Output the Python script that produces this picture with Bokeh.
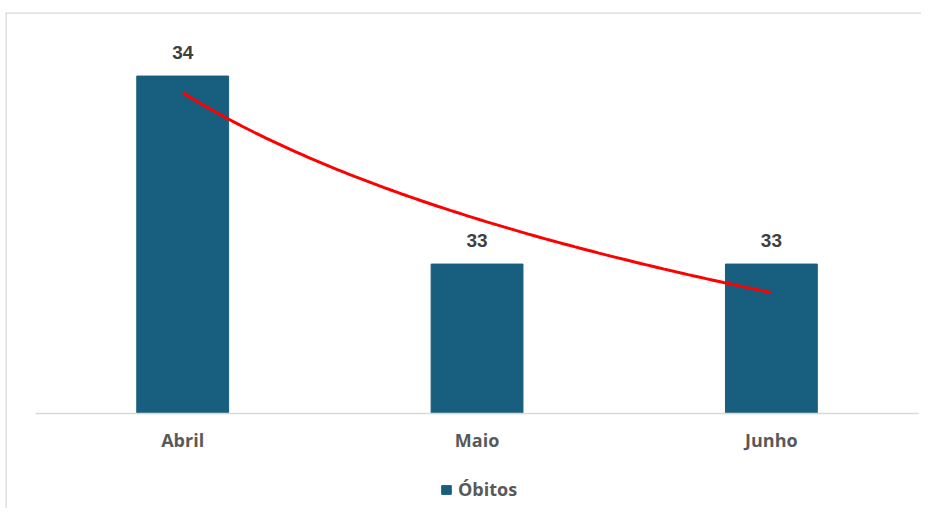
import numpy as np
from bokeh.plotting import figure
from bokeh.models import ColumnDataSource, Legend, LegendItem, FixedTicker, Range1d, Span
from bokeh.core.properties import value
from bokeh.embed import file_html
from bokeh.resources import INLINE

# ---- data ----
categories = ["Abril", "Maio", "Junho"]
obitos = [34, 33, 33]
labels = ["34", "33", "33"]
axis_min = 32.205

xpos = [i + 1 for i in range(len(categories))]

# logarithmic trend line fitted to the bar values (as a spreadsheet trendline)
b, a = np.polyfit(np.log(xpos), obitos, 1)
tx = np.linspace(xpos[0], xpos[-1], 100)
ty = a + b * np.log(tx)

BAR = "#185E7F"
BORDER = "#d9d9d9"

x_start, x_end = 0.398, 3.510
y_start, y_end = 31.70, 34.338

p = figure(frame_width=916, frame_height=496, output_backend="svg", toolbar_location=None,
           x_range=Range1d(x_start, x_end), y_range=Range1d(y_start, y_end),
           min_border_left=5, min_border_right=0, min_border_top=12,
           min_border_bottom=0)
p.outline_line_color = None
p.grid.visible = False
p.yaxis.visible = False

# chart-area border (top and left edges)
p.add_layout(Span(location=y_end, dimension="width", line_color=BORDER, line_width=2.5))
p.add_layout(Span(location=x_start, dimension="height", line_color=BORDER, line_width=2.5))

src = ColumnDataSource(dict(x=xpos, top=obitos, lab=labels))
bars = p.vbar(x="x", top="top", bottom=axis_min, width=0.312, color=BAR, source=src)

p.line(tx, ty, line_color="#FF0000", line_width=3)

p.text(x="x", y="top", text="lab", source=src, text_align="center",
       text_baseline="alphabetic", y_offset=-24,
       text_font=value("Liberation Sans"), text_font_style="bold",
       text_font_size="19px", text_color="#404040")

ax = p.xaxis[0]
ax.fixed_location = axis_min
ax.bounds = (xpos[0] - 0.5, xpos[-1] + 0.5)
ax.ticker = FixedTicker(ticks=xpos)
ax.major_label_overrides = {x: c for x, c in zip(xpos, categories)}
ax.axis_line_color = BORDER
ax.axis_line_width = 1.5
ax.major_tick_line_color = None
ax.minor_tick_line_color = None
ax.major_label_standoff = 8
ax.major_label_text_font = "Open Sans"
ax.major_label_text_font_style = "bold"
ax.major_label_text_font_size = "18px"
ax.major_label_text_color = "#595959"

legend = Legend(items=[LegendItem(label="Óbitos", renderers=[bars])],
                orientation="horizontal", location=(435, 7),
                border_line_color=None, background_fill_alpha=0,
                glyph_width=12, glyph_height=11, label_standoff=6,
                label_text_font="Open Sans", label_text_font_style="bold",
                label_text_font_size="18px", label_text_color="#595959",
                padding=0, margin=0)
p.add_layout(legend)

open("out.html", "w").write(file_html(p, INLINE))
